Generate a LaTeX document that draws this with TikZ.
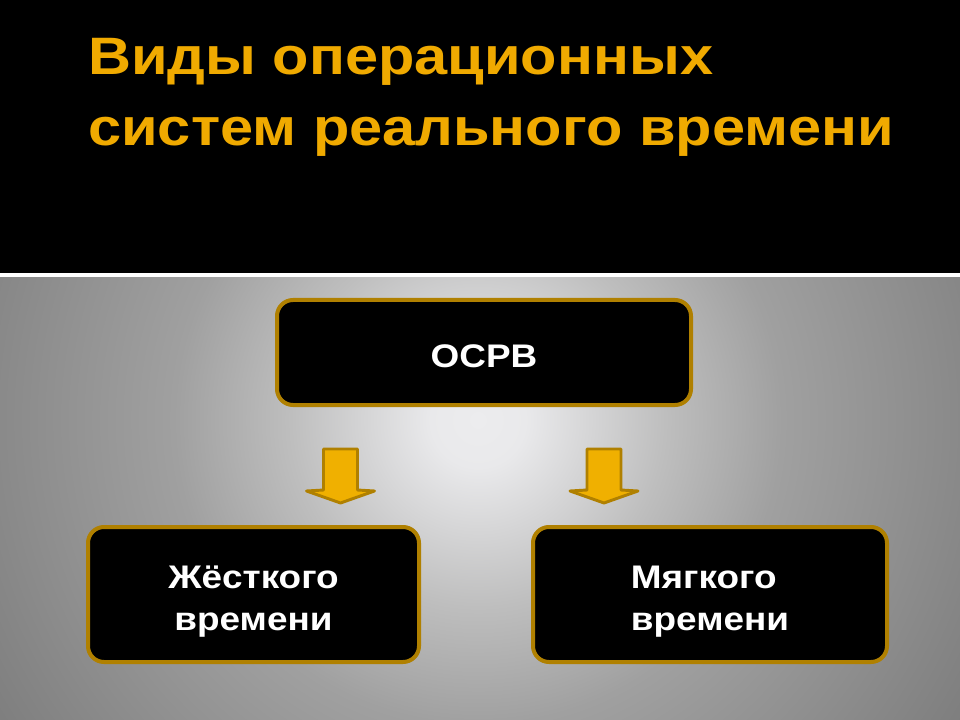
\documentclass[tikz,border=0pt]{standalone}
\usepackage{fontspec}
\setmainfont{Liberation Sans}[FakeStretch=1.13]
\usetikzlibrary{shapes}
\usepackage{xcolor}
\definecolor{titlegold}{RGB}{240,170,0}
\definecolor{rimgold}{RGB}{176,128,0}
\definecolor{arrowgold}{RGB}{240,176,0}
\definecolor{bglight}{RGB}{236,236,238}
\definecolor{bgmid}{RGB}{190,190,190}
\definecolor{bglow}{RGB}{160,160,160}
\definecolor{bgdark}{RGB}{124,124,124}
\pgfdeclareradialshading{slidebg}{\pgfpoint{0bp}{0bp}}{color(0bp)=(bglight); color(2bp)=(bglight!94!bgmid);
	color(8bp)=(bgmid); color(13bp)=(bglow); color(25bp)=(bgdark); color(50bp)=(bgdark)}
\newcommand{\lowstrut}[1]{\rule{0pt}{#1}}

\begin{document}
\begin{tikzpicture}[x=0.75pt,y=-0.75pt,
		box/.style={draw=rimgold,line width=3pt,fill=black,rounded corners=12pt,text=white,
			font=\fontsize{24.5}{31.5}\selectfont\bfseries,align=center,inner sep=0pt},
		arrowline/.style={draw=rimgold,fill=arrowgold,line width=2.2pt,line join=round},
		pics/downarrow/.style={code={
			\draw[arrowline] (-17,0) -- (17,0) -- (17,41) -- (34,42) -- (0,54) -- (-34,42) -- (-17,41) -- cycle;
		}}]
		% background
		\useasboundingbox (0,0) rectangle (960,720);
		\fill [black] (0,0) rectangle (960,273);
		\fill [white] (0,273) rectangle (960,278);
		\begin{scope}
		\clip (0,278) rectangle (960,720);
		\shade [shading=slidebg] (478,420) circle (585);
		\end{scope}
		% title
		\node (title) [anchor=base west,text=titlegold,align=left,inner sep=0pt,
			font=\fontsize{39.5}{53.25}\selectfont\bfseries] at (88,146)
			{Виды операционных\\систем реального времени};
		% boxes
		\node (osrv) [box,minimum width=310.5pt,minimum height=78.75pt] at (484,352.5) {\lowstrut{22pt}ОСРВ};
		\node (hard) [box,minimum width=248.25pt,minimum height=101.25pt] at (253.5,594.5) {\lowstrut{28pt}Жёсткого\\времени};
		\node (soft) [box,minimum width=265.5pt,minimum height=101.25pt,align=left] at (710,594.5) {\lowstrut{28pt}Мягкого\\времени};
		% arrows
		\pic at (340.5,449) {downarrow};
		\pic at (604,449) {downarrow};
\end{tikzpicture}
\end{document}
